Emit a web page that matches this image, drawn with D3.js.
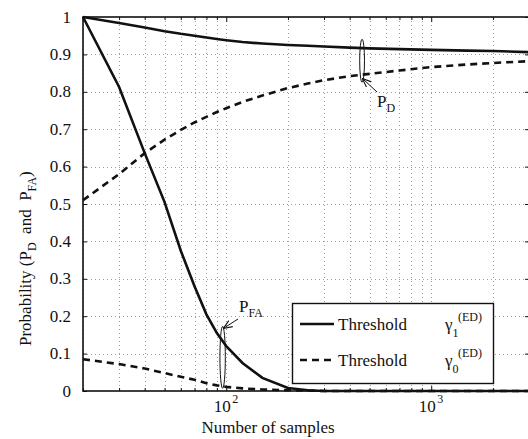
<!DOCTYPE html>
<head>
    <meta charset="utf-8">
    <title>Probability vs samples</title>
    <script type="text/javascript" src="https://d3js.org/d3.v7.min.js"></script>
    <style>
        body { margin: 0; background: #fff; }
        svg text { font-family: "Liberation Serif", "Times New Roman", serif; fill: #111; }
    </style>
</head>
<body>
<div id="container"></div>
<script>
    //-----------------------------DATA------------------------------//
    const samples = [20, 30, 40, 50, 60, 70, 80, 90, 100, 120, 150, 200, 250, 300, 400, 500, 700, 1000, 1500, 2000, 3000];
    const pdGamma1 = [1.0, 0.984, 0.972, 0.962, 0.955, 0.950, 0.945, 0.941, 0.938, 0.933, 0.929, 0.925, 0.923, 0.921, 0.918, 0.916, 0.914, 0.912, 0.910, 0.909, 0.906];
    const pdGamma0 = [0.51, 0.58, 0.636, 0.672, 0.698, 0.718, 0.733, 0.746, 0.756, 0.773, 0.79, 0.81, 0.822, 0.831, 0.842, 0.848, 0.857, 0.866, 0.873, 0.877, 0.882];
    const pfaGamma1 = [1.0, 0.813, 0.636, 0.505, 0.375, 0.28, 0.205, 0.155, 0.12, 0.075, 0.035, 0.008, 0.002, 0, 0, 0, 0, 0, 0, 0, 0];
    const pfaGamma0 = [0.085, 0.072, 0.06, 0.048, 0.038, 0.03, 0.021, 0.015, 0.011, 0.007, 0.004, 0.002, 0.001, 0, 0, 0, 0, 0, 0, 0, 0];

    const yTicks = [0, 0.1, 0.2, 0.3, 0.4, 0.5, 0.6, 0.7, 0.8, 0.9, 1];
    const yTickLabels = ["0", "0.1", "0.2", "0.3", "0.4", "0.5", "0.6", "0.7", "0.8", "0.9", "1"];
    const xMajor = [100, 1000];
    const xMajorExp = ["2", "3"];
    const xMinor = [20, 30, 40, 50, 60, 70, 80, 90, 200, 300, 400, 500, 600, 700, 800, 900, 2000, 3000];

    //-----------------------------SVG-------------------------------//
    const width = 528;
    const height = 439;
    const svg = d3.select("div#container").append("svg")
        .attr("width", width)
        .attr("height", height)
        .attr("font-family", "Liberation Serif");

    const plotLeft = 83, plotRight = 529, plotTop = 17, plotBottom = 391;

    //----------------------------SCALES-----------------------------//
    const xScale = d3.scaleLog().domain([20, 3000]).range([plotLeft, plotRight]);
    const yScale = d3.scaleLinear().domain([0, 1]).range([plotBottom, plotTop]);

    //-----------------------------GRID------------------------------//
    const grid = svg.append("g")
        .attr("stroke", "#a0a0a0")
        .attr("stroke-width", 1)
        .attr("stroke-dasharray", "1,3");

    grid.selectAll(".vgrid")
        .data(xMinor.concat(xMajor))
        .enter().append("line")
        .attr("x1", d => Math.round(xScale(d)) + 0.5)
        .attr("x2", d => Math.round(xScale(d)) + 0.5)
        .attr("y1", plotTop)
        .attr("y2", plotBottom);

    grid.selectAll(".hgrid")
        .data(yTicks.slice(1, -1))
        .enter().append("line")
        .attr("x1", plotLeft)
        .attr("x2", plotRight)
        .attr("y1", d => Math.round(yScale(d)) + 0.5)
        .attr("y2", d => Math.round(yScale(d)) + 0.5);

    //-----------------------------AXES------------------------------//
    const xAxisMinor = d3.axisBottom(xScale).tickValues(xMinor).tickSize(-3).tickFormat("");
    const xAxisMajor = d3.axisBottom(xScale).tickValues(xMajor).tickSize(-5).tickFormat("");
    const xAxisTopMajor = d3.axisTop(xScale).tickValues(xMajor).tickSize(-5).tickFormat("");
    const xAxisTopMinor = d3.axisTop(xScale).tickValues(xMinor).tickSize(-3).tickFormat("");
    const yAxisLeft = d3.axisLeft(yScale).tickValues(yTicks).tickSize(-4).tickFormat("");
    const yAxisRight = d3.axisRight(yScale).tickValues(yTicks).tickSize(-4).tickFormat("");

    function styleAxis(g) {
        g.select(".domain").remove();
        g.selectAll(".tick line").attr("stroke", "#111").attr("stroke-width", 1);
    }

    svg.append("g").attr("transform", "translate(0," + plotBottom + ")").call(xAxisMinor).call(styleAxis);
    svg.append("g").attr("transform", "translate(0," + plotBottom + ")").call(xAxisMajor).call(styleAxis);
    svg.append("g").attr("transform", "translate(0," + plotTop + ")").call(xAxisTopMinor).call(styleAxis);
    svg.append("g").attr("transform", "translate(0," + plotTop + ")").call(xAxisTopMajor).call(styleAxis);
    svg.append("g").attr("transform", "translate(" + plotLeft + ",0)").call(yAxisLeft).call(styleAxis);
    svg.append("g").attr("transform", "translate(" + plotRight + ",0)").call(yAxisRight).call(styleAxis);

    // frame
    svg.append("rect")
        .attr("x", plotLeft)
        .attr("y", plotTop)
        .attr("width", plotRight - plotLeft)
        .attr("height", plotBottom - plotTop)
        .attr("fill", "none")
        .attr("stroke", "#111")
        .attr("stroke-width", 1.6);

    // y tick labels
    svg.selectAll(".ylab")
        .data(yTicks)
        .enter().append("text")
        .attr("x", 71)
        .attr("y", d => yScale(d))
        .attr("dy", "0.33em")
        .attr("text-anchor", "end")
        .attr("font-size", 17)
        .text((d, i) => yTickLabels[i]);

    // x tick labels (10^n): base and exponent as separate texts
    svg.selectAll(".xlab")
        .data(xMajor)
        .enter().append("text")
        .attr("x", d => xScale(d) - 4)
        .attr("y", 412)
        .attr("text-anchor", "middle")
        .attr("font-size", 17)
        .text("10");
    svg.selectAll(".xexp")
        .data(xMajor)
        .enter().append("text")
        .attr("x", d => xScale(d) + 6)
        .attr("y", 403)
        .attr("font-size", 12)
        .text((d, i) => xMajorExp[i]);

    // axis titles
    svg.append("text")
        .attr("x", 268)
        .attr("y", 433)
        .attr("text-anchor", "middle")
        .attr("font-size", 17)
        .text("Number of samples");

    const yl = svg.append("text")
        .attr("transform", "translate(31,346) rotate(-90)")
        .attr("text-anchor", "start")
        .attr("font-size", 17);
    yl.append("tspan").text("Probability (P");
    yl.append("tspan").attr("dy", 5).attr("font-size", 12).text("D");
    yl.append("tspan").attr("dy", -5).text("\u00a0 and \u00a0P");
    yl.append("tspan").attr("dy", 5).attr("font-size", 12).text("FA");
    yl.append("tspan").attr("dy", -5).text(")");

    //----------------------------LINES------------------------------//
    const series = [
        {id: "pd1", values: pdGamma1, dash: null},
        {id: "pd0", values: pdGamma0, dash: "7,5"},
        {id: "pfa1", values: pfaGamma1, dash: null},
        {id: "pfa0", values: pfaGamma0, dash: "7,5"}
    ];

    const line = d3.line()
        .x((d, i) => xScale(samples[i]))
        .y(d => yScale(d));

    const plot = svg.append("g");
    plot.selectAll(".curve")
        .data(series)
        .enter().append("path")
        .attr("d", d => line(d.values))
        .attr("fill", "none")
        .attr("stroke", "#111")
        .attr("stroke-width", 2.6)
        .attr("stroke-dasharray", d => d.dash);

    //--------------------------ANNOTATIONS--------------------------//
    svg.append("defs").append("marker")
        .attr("id", "arrow")
        .attr("viewBox", "0 0 10 10")
        .attr("refX", 9).attr("refY", 5)
        .attr("markerWidth", 9).attr("markerHeight", 9)
        .attr("orient", "auto")
        .append("path")
        .attr("d", "M0,1 L10,5 L0,9")
        .attr("fill", "none")
        .attr("stroke", "#111")
        .attr("stroke-width", 1.2);

    const ann = svg.append("g").attr("stroke", "#111").attr("fill", "none").attr("stroke-width", 1);
    ann.append("ellipse")
        .attr("cx", xScale(96)).attr("cy", yScale(0.09))
        .attr("rx", 2.7).attr("ry", 31);
    ann.append("line")
        .attr("x1", 238).attr("y1", 319).attr("x2", 224).attr("y2", 328)
        .attr("marker-end", "url(#arrow)");
    ann.append("ellipse")
        .attr("cx", xScale(460)).attr("cy", yScale(0.883))
        .attr("rx", 2.4).attr("ry", 21.5);
    ann.append("line")
        .attr("x1", 377).attr("y1", 92).attr("x2", 363).attr("y2", 79)
        .attr("marker-end", "url(#arrow)");

    const tfa = svg.append("text").attr("x", 239).attr("y", 312).attr("font-size", 17);
    tfa.append("tspan").text("P");
    tfa.append("tspan").attr("dy", 5).attr("font-size", 12).text("FA");

    const td = svg.append("text").attr("x", 377).attr("y", 107).attr("font-size", 17);
    td.append("tspan").text("P");
    td.append("tspan").attr("dy", 5).attr("font-size", 12).text("D");

    //-----------------------------LEGEND----------------------------//
    const legend = svg.append("g");
    legend.append("rect")
        .attr("x", 292.5).attr("y", 303.5)
        .attr("width", 201).attr("height", 80)
        .attr("fill", "#fff")
        .attr("stroke", "#111")
        .attr("stroke-width", 1.4);

    const legendRows = [
        {dash: null, sub: "1", y: 324},
        {dash: "7,5", sub: "0", y: 360}
    ];
    legendRows.forEach(function (r) {
        legend.append("line")
            .attr("x1", 300).attr("x2", 334)
            .attr("y1", r.y).attr("y2", r.y)
            .attr("stroke", "#111")
            .attr("stroke-width", 2.6)
            .attr("stroke-dasharray", r.dash);
        legend.append("text")
            .attr("x", 338).attr("y", r.y + 6)
            .attr("font-size", 17)
            .text("Threshold");
        const g = legend.append("text")
            .attr("x", 445).attr("y", r.y + 6)
            .attr("font-size", 17);
        g.append("tspan").text("\u03b3");
        g.append("tspan").attr("dy", 7).attr("font-size", 12).text(r.sub);
        legend.append("text")
            .attr("x", 458).attr("y", r.y - 3)
            .attr("font-size", 12)
            .text("(ED)");
    });
</script>
</body>
